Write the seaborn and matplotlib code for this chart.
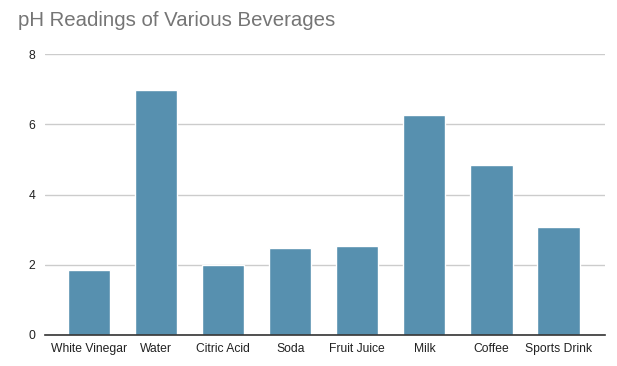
"""
pH readings bar chart
"""

import pandas as pd
import matplotlib.pyplot as plt
import seaborn as sns

sns.set_theme(style="whitegrid")
plt.rcParams["font.family"] = ["Liberation Sans", "DejaVu Sans"]

# ---------------------------------------------
# Data
# ---------------------------------------------

beverages = [
    "White Vinegar", "Water", "Citric Acid", "Soda",
    "Fruit Juice", "Milk", "Coffee", "Sports Drink",
]
ph_values = [1.84, 6.97, 1.99, 2.49, 2.52, 6.26, 4.84, 3.08]

df = pd.DataFrame({"Beverage": beverages, "pH": ph_values})

# ---------------------------------------------
# Chart
# ---------------------------------------------

fig = plt.figure(figsize=(6.17, 3.66), dpi=100)
ax = fig.add_axes([0.073, 0.085, 0.907, 0.767])

sns.barplot(
    data=df,
    x="Beverage",
    y="pH",
    color="#5790af",
    saturation=1,
    width=0.63,
    ax=ax,
)

ax.set_ylim(0, 8)
ax.set_yticks([0, 2, 4, 6, 8])
ax.set_xlim(-0.66, len(beverages) - 0.31)
ax.set_xlabel("")
ax.set_ylabel("")

ax.grid(axis="y", color="#cccccc", linewidth=1)
ax.grid(axis="x", visible=False)
for side in ["top", "right", "left"]:
    ax.spines[side].set_visible(False)
ax.spines["bottom"].set_color("#333333")
ax.spines["bottom"].set_linewidth(1.2)

ax.tick_params(axis="both", length=0, labelsize=8.7, colors="#222222")
ax.tick_params(axis="y", pad=7)
ax.tick_params(axis="x", pad=6)

fig.text(0.029, 0.945, "pH Readings of Various Beverages",
         fontsize=14.7, color="#757575", ha="left", va="center")

fig.savefig("out.png", dpi=100)
plt.close(fig)
